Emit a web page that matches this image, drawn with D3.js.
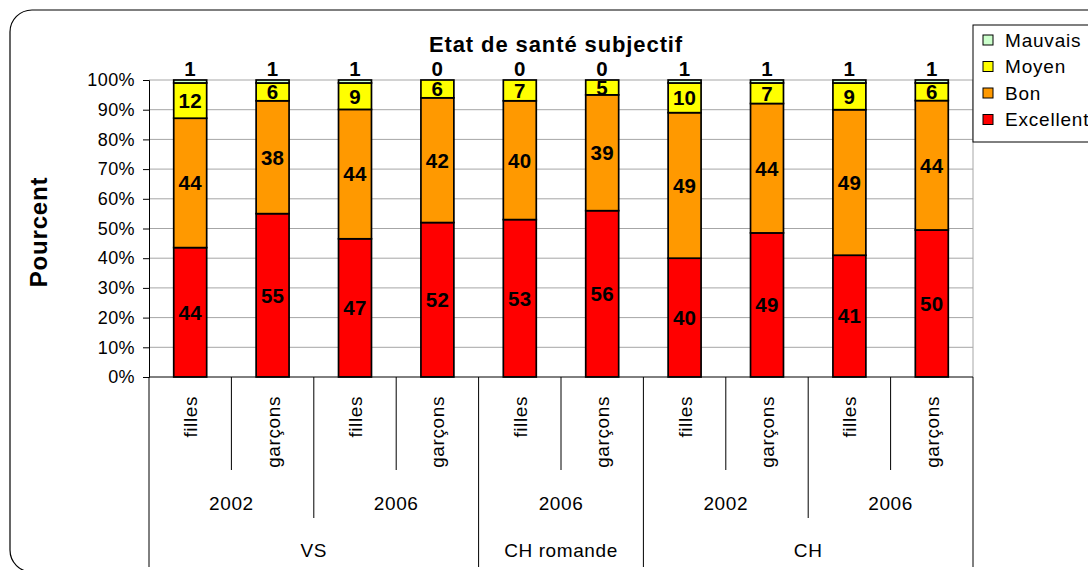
<!DOCTYPE html>
<meta charset="utf-8">
<script src="https://d3js.org/d3.v7.min.js"></script>
<style>
body { margin: 0; background: #fff; }
text { font-family: "Liberation Sans", Arial, sans-serif; fill: #000; }
.grid line { stroke: #a6a6a6; stroke-width: 1px; }
.seg { stroke: #000; stroke-width: 1.7px; }
.lbl { font-weight: bold; font-size: 20.5px; letter-spacing: 0.3px; }
.cat { font-size: 19px; letter-spacing: 0.6px; }
</style>
<body>
<script>
// data
var regions = ["VS", "VS", "VS", "VS", "CH romande", "CH romande", "CH", "CH", "CH", "CH"];
var years = ["2002", "2002", "2006", "2006", "2006", "2006", "2002", "2002", "2006", "2006"];
var sexes = ["filles", "garçons", "filles", "garçons", "filles", "garçons", "filles", "garçons", "filles", "garçons"];
var excellent = [44, 55, 47, 52, 53, 56, 40, 49, 41, 50];
var bon = [44, 38, 44, 42, 40, 39, 49, 44, 49, 44];
var moyen = [12, 6, 9, 6, 7, 5, 10, 7, 9, 6];
var mauvais = [1, 1, 1, 0, 0, 0, 1, 1, 1, 1];
var seriesNames = ["Excellent", "Bon", "Moyen", "Mauvais"];
var seriesColors = ["#ff0000", "#ff9900", "#ffff00", "#ccffcc"];
var yTicks = [0, 0.1, 0.2, 0.3, 0.4, 0.5, 0.6, 0.7, 0.8, 0.9, 1];

var W = 1088, H = 570;
var pL = 149, pR = 973, pT = 80, pB = 377;

var rows = sexes.map(function(s, i) {
  return { i: i, Excellent: excellent[i], Bon: bon[i], Moyen: moyen[i], Mauvais: mauvais[i] };
});

var svg = d3.select("body").append("svg")
    .attr("width", W)
    .attr("height", H);

// outer frame
svg.append("rect")
    .attr("x", 10).attr("y", 10)
    .attr("width", 1100).attr("height", 562)
    .attr("rx", 22).attr("ry", 22)
    .attr("fill", "none")
    .attr("stroke", "#000")
    .attr("stroke-width", 1.2);

var x = d3.scaleBand()
    .domain(d3.range(sexes.length))
    .range([pL, pR])
    .paddingInner(0.6)
    .paddingOuter(0.3);

var y = d3.scaleLinear()
    .domain([0, 1])
    .range([pB, pT]);

// gridlines
svg.append("g")
    .attr("class", "grid")
    .selectAll("line")
    .data(yTicks.slice(1))
    .enter().append("line")
    .attr("x1", pL).attr("x2", pR)
    .attr("y1", function(d) { return y(d); })
    .attr("y2", function(d) { return y(d); });

svg.append("line")
    .attr("x1", pR).attr("x2", pR)
    .attr("y1", pT).attr("y2", pB)
    .attr("stroke", "#a6a6a6");

// y axis
var yAxis = svg.append("g")
    .attr("transform", "translate(" + pL + ",0)")
    .call(d3.axisLeft(y).tickValues(yTicks).tickFormat(d3.format(".0%")).tickSize(6).tickPadding(8));
yAxis.select(".domain").attr("stroke", "#000");
yAxis.selectAll(".tick line").attr("stroke", "#000");
yAxis.selectAll("text")
    .attr("font-size", "18px")
    .attr("font-family", "Liberation Sans, Arial, sans-serif")
    .attr("letter-spacing", "0.4px")
    .attr("fill", "#000");

// stacked bars
var stack = d3.stack()
    .keys(seriesNames)
    .offset(d3.stackOffsetExpand);
var layers = stack(rows);

var layer = svg.append("g").selectAll("g")
    .data(layers)
    .enter().append("g")
    .attr("fill", function(d, i) { return seriesColors[i]; });

layer.selectAll("rect")
    .data(function(d) { return d; })
    .enter().append("rect")
    .attr("class", "seg")
    .attr("x", function(d) { return x(d.data.i); })
    .attr("width", x.bandwidth())
    .attr("y", function(d) { return y(d[1]); })
    .attr("height", function(d) { return y(d[0]) - y(d[1]); });

// x axis baseline
svg.append("line")
    .attr("x1", pL).attr("x2", pR)
    .attr("y1", pB).attr("y2", pB)
    .attr("stroke", "#000");

// data labels
layers.forEach(function(l) {
  svg.append("g").selectAll("text")
      .data(l)
      .enter().append("text")
      .attr("class", "lbl")
      .attr("text-anchor", "middle")
      .attr("x", function(d) { return x(d.data.i) + x.bandwidth() / 2; })
      .attr("y", function(d) {
        if (l.key === "Mauvais") return y(d[1]) - 4;
        return (y(d[0]) + y(d[1])) / 2;
      })
      .attr("dy", l.key === "Mauvais" ? 0 : "0.36em")
      .text(function(d) { return d.data[l.key]; });
});

// category axis: sexes
svg.append("g").selectAll("text")
    .data(sexes)
    .enter().append("text")
    .attr("class", "cat")
    .attr("text-anchor", "end")
    .attr("transform", function(d, i) {
      return "translate(" + (x(i) + x.bandwidth() / 2 + 7) + ",396) rotate(-90)";
    })
    .text(function(d) { return d; });

// separators
var step = x.step();
var bounds = d3.range(sexes.length + 1);
svg.append("g").selectAll("line")
    .data(bounds)
    .enter().append("line")
    .attr("stroke", "#000")
    .attr("x1", function(b) { return pL + b * step; })
    .attr("x2", function(b) { return pL + b * step; })
    .attr("y1", pB)
    .attr("y2", function(b) {
      if (b === 0 || b === sexes.length || regions[b] !== regions[b - 1]) return 567;
      if (years[b] !== years[b - 1]) return 518;
      return 470;
    });

// group labels
function groups(keyFn) {
  var out = [];
  sexes.forEach(function(s, i) {
    var k = keyFn(i);
    var last = out[out.length - 1];
    if (last && last.key === k) last.end = i;
    else out.push({ key: k, label: keyFn(i, true), start: i, end: i });
  });
  return out;
}

var yearGroups = groups(function(i, lab) { return lab ? years[i] : regions[i] + years[i]; });
svg.append("g").selectAll("text")
    .data(yearGroups)
    .enter().append("text")
    .attr("class", "cat")
    .attr("text-anchor", "middle")
    .attr("x", function(d) { return pL + (d.start + d.end + 1) / 2 * step; })
    .attr("y", 510)
    .text(function(d) { return d.label; });

var regionGroups = groups(function(i) { return regions[i]; });
svg.append("g").selectAll("text")
    .data(regionGroups)
    .enter().append("text")
    .attr("class", "cat")
    .attr("text-anchor", "middle")
    .attr("x", function(d) { return pL + (d.start + d.end + 1) / 2 * step; })
    .attr("y", 557)
    .text(function(d) { return d.label; });

// title
svg.append("text")
    .attr("x", 556).attr("y", 52)
    .attr("text-anchor", "middle")
    .attr("font-size", "22px")
    .attr("font-weight", "bold")
    .attr("letter-spacing", "0.9px")
    .text("Etat de santé subjectif");

svg.append("text")
    .attr("transform", "translate(47,232) rotate(-90)")
    .attr("text-anchor", "middle")
    .attr("font-size", "24px")
    .attr("font-weight", "bold")
    .attr("letter-spacing", "0.8px")
    .text("Pourcent");

// legend
var lg = svg.append("g").attr("transform", "translate(973,25)");
lg.append("rect")
    .attr("width", 140).attr("height", 117)
    .attr("fill", "#fff")
    .attr("stroke", "#000");
var items = lg.selectAll("g.item")
    .data(seriesNames.slice().reverse())
    .enter().append("g")
    .attr("class", "item")
    .attr("transform", function(d, i) { return "translate(10," + (15 + i * 26.5) + ")"; });
items.append("rect")
    .attr("x", 0).attr("y", -5)
    .attr("width", 10).attr("height", 10)
    .attr("stroke", "#000")
    .attr("fill", function(d) { return seriesColors[seriesNames.indexOf(d)]; });
items.append("text")
    .attr("x", 22).attr("dy", "0.36em")
    .attr("font-size", "19px")
    .attr("letter-spacing", "0.8px")
    .text(function(d) { return d; });
</script>
</body>
